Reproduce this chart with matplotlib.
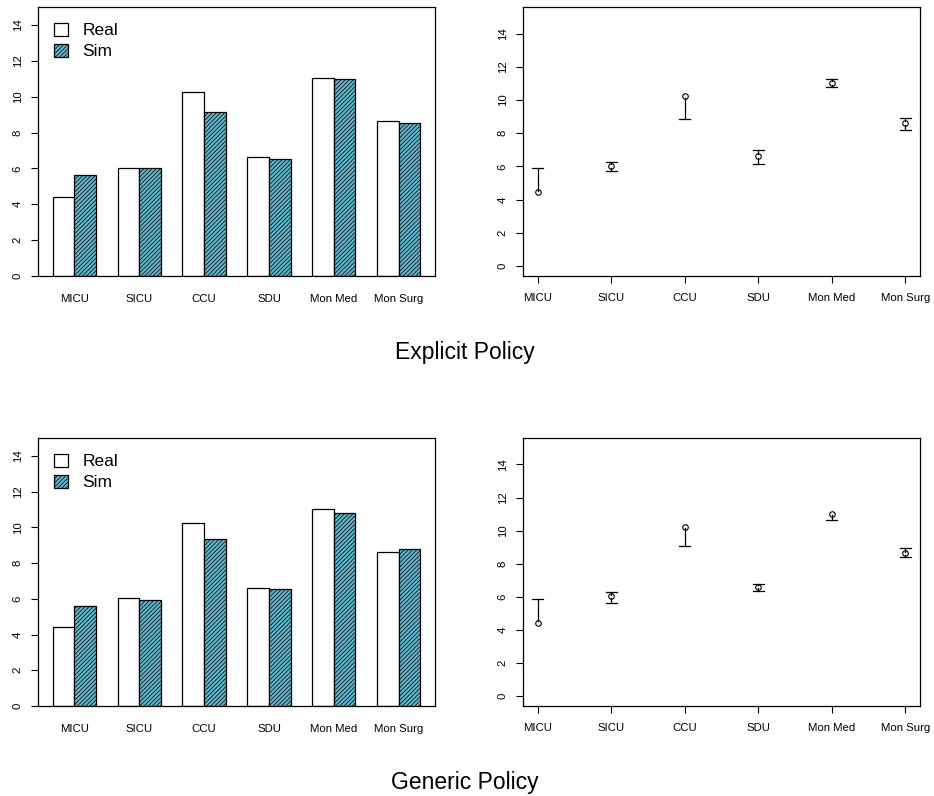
import matplotlib
matplotlib.use("Agg")
import matplotlib.pyplot as plt
from matplotlib.patches import Patch

plt.rcParams['font.family'] = ['Liberation Sans', 'DejaVu Sans']
plt.rcParams['hatch.linewidth'] = 0.5
plt.rcParams['hatch.color'] = '#26495a'

units = ["MICU", "SICU", "CCU", "SDU", "Mon Med", "Mon Surg"]
real = [4.43, 6.02, 10.24, 6.62, 11.02, 8.62]

# explicit policy
sim_explicit = [5.63, 6.01, 9.12, 6.55, 11.01, 8.55]
ci_lo_explicit = [5.39, 5.73, 8.86, 6.17, 10.79, 8.21]
ci_hi_explicit = [5.89, 6.29, 9.38, 6.96, 11.25, 8.89]

# generic policy
sim_generic = [5.60, 5.92, 9.37, 6.54, 10.80, 8.76]
ci_lo_generic = [5.34, 5.60, 9.06, 6.33, 10.62, 8.43]
ci_hi_generic = [5.86, 6.27, 9.68, 6.77, 10.96, 8.97]

titles = ["Explicit Policy", "Generic Policy"]

sim_col = '#62b4cc'
tick_fs = 8.2


def barras(ax, sim):
    starts = [1 + 3 * i for i in range(len(units))]
    ax.bar([s + 0.5 for s in starts], real, width=1, color='white',
           edgecolor='black', linewidth=0.9)
    ax.bar([s + 1.5 for s in starts], sim, width=1, color=sim_col,
           edgecolor='black', linewidth=0.9, hatch='////////')
    ax.set_xlim(1 - 0.68, 18 + 0.68)
    ax.set_ylim(0, 15)
    ax.set_xticks([s + 1 for s in starts])
    ax.set_xticklabels(units, fontsize=tick_fs)
    ax.tick_params(axis='x', length=0, pad=13)
    ax.set_yticks(range(0, 15, 2))
    ax.set_yticklabels([str(v) for v in range(0, 15, 2)], rotation=90,
                       va='center', fontsize=tick_fs)
    ax.tick_params(axis='y', length=5, width=0.8, pad=6)
    handles = [Patch(facecolor='white', edgecolor='black', linewidth=0.9),
               Patch(facecolor=sim_col, edgecolor='black', linewidth=0.9,
                     hatch='////////')]
    ax.legend(handles, ["Real", "Sim"], loc='upper left', frameon=False,
              fontsize=12.5, handlelength=0.8, handleheight=0.8,
              handletextpad=0.85, labelspacing=0.3,
              bbox_to_anchor=(0.0, 1.0), borderaxespad=0.5)


def intervalos(ax, lo, hi):
    xs = list(range(1, len(units) + 1))
    gap = 0.1
    cap = 0.075
    for x, y, l, u in zip(xs, real, lo, hi):
        if l < y - gap:
            ax.plot([x, x], [l, y - gap], color='black', lw=0.9)
            ax.plot([x - cap, x + cap], [l, l], color='black', lw=0.9)
        if u > y + gap:
            ax.plot([x, x], [y + gap, u], color='black', lw=0.9)
            ax.plot([x - cap, x + cap], [u, u], color='black', lw=0.9)
    ax.plot(xs, real, 'o', mfc='none', mec='black', ms=4, mew=0.8)
    ax.set_xlim(0.8, 6.2)
    ax.set_ylim(-0.6, 15.6)
    ax.set_xticks(xs)
    ax.set_xticklabels(units, fontsize=tick_fs)
    ax.tick_params(axis='x', length=5, width=0.8, pad=7)
    ax.set_yticks(range(0, 15, 2))
    ax.set_yticklabels([str(v) for v in range(0, 15, 2)], rotation=90,
                       va='center', fontsize=tick_fs)
    ax.tick_params(axis='y', length=5, width=0.8, pad=6)


fig = plt.figure(figsize=(9.34, 7.96), dpi=100)

W, H = 934, 796
linhas = [(7, 276), (438, 706)]
for (topo, base), sim, lo, hi, titulo, ty in zip(
        linhas, [sim_explicit, sim_generic], [ci_lo_explicit, ci_lo_generic],
        [ci_hi_explicit, ci_hi_generic], titles, [352, 782]):
    ax1 = fig.add_axes([38 / W, 1 - base / H, 397 / W, (base - topo) / H])
    ax2 = fig.add_axes([523 / W, 1 - base / H, 397 / W, (base - topo) / H])
    for ax in (ax1, ax2):
        for s in ax.spines.values():
            s.set_linewidth(0.9)
    barras(ax1, sim)
    intervalos(ax2, lo, hi)
    fig.text(465 / W, 1 - ty / H, titulo, ha='center', va='center', fontsize=16.5)

fig.savefig("out.png", dpi=100)
